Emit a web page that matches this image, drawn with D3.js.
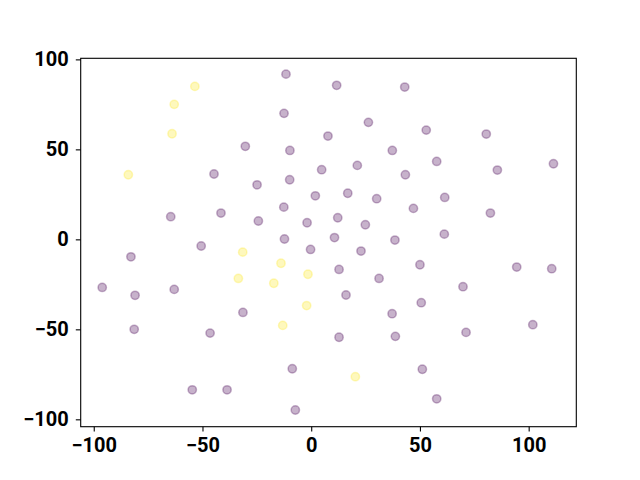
<!DOCTYPE html>
<html>
<head>
<meta charset="utf-8">
<script src="https://cdn.jsdelivr.net/npm/d3@7"></script>
<style>
  body { margin: 0; background: #fff; }
  .tick text { font-family: Roboto, sans-serif; font-weight: bold; }
</style>
</head>
<body>
<div id="chart"></div>
<script>
// points in cluster 0 (purple)
var xs0 = [-11.6, 11.7, 43.0, -12.5, 26.3, 52.9, 7.7, 80.5, -30.3, -9.8, 37.3, 21.2, 57.7, 111.4,
  4.8, -44.7, -9.9, 43.3, 85.6, -24.9, 1.9, 16.8, 30.1, 61.4, -64.6, -41.5, -12.6, 47.0, 82.4,
  -24.3, -1.9, 12.2, 24.9, -12.3, 10.7, 38.5, 61.2, -50.6, -0.3, 22.9, -82.9, 12.8, 50.0, 94.5,
  110.6, 31.2, -96.1, -63.0, 69.8, -81.0, 16.0, 50.6, -31.4, 37.2, 101.9, -81.4, -46.5, 12.8,
  38.7, 71.2, -8.7, 51.1, -54.7, -38.7, 57.7, -7.3];
var ys0 = [91.8, 85.6, 84.6, 70.0, 65.0, 60.7, 57.4, 58.5, 51.7, 49.4, 49.4, 41.1, 43.3, 42.0,
  38.7, 36.3, 33.1, 35.9, 38.5, 30.3, 24.2, 25.6, 22.6, 23.3, 12.6, 14.6, 17.9, 17.2, 14.6,
  10.2, 9.2, 12.0, 8.1, 0.2, 1.0, -0.4, 2.9, -3.7, -5.6, -6.5, -9.7, -16.7, -14.1, -15.4,
  -16.3, -21.7, -26.7, -27.8, -26.3, -31.1, -30.9, -35.2, -40.6, -41.3, -47.4, -50.0, -52.1, -54.4,
  -53.9, -51.7, -71.9, -72.2, -83.6, -83.6, -88.6, -94.8];

// points in cluster 1 (yellow)
var xs1 = [-53.5, -63.0, -64.0, -84.1, -31.5, -13.9, -33.5, -1.5, -17.2, -2.1, -13.1, 20.3];
var ys1 = [85.0, 75.0, 58.7, 35.9, -7.1, -13.3, -21.7, -19.4, -24.4, -36.8, -47.8, -76.3];

var xTicks = [-100, -50, 0, 50, 100];
var yTicks = [-100, -50, 0, 50, 100];

var W = 640, H = 480;
var margin = {top: 58.3, right: 63.7, bottom: 53.3, left: 80.7},
    width = W - margin.left - margin.right,
    height = H - margin.top - margin.bottom;

var svg = d3.select("#chart")
  .append("svg")
  .attr("width", W)
  .attr("height", H)
  .append("g")
  .attr("transform", "translate(" + margin.left + "," + margin.top + ")");

var x = d3.scaleLinear().domain([-106.0, 121.9]).range([0, width]);
var y = d3.scaleLinear().domain([-104.1, 100.6]).range([height, 0]);

var pts = [];
xs0.forEach(function(v, i) { pts.push({x: v, y: ys0[i], c: "#440154"}); });
xs1.forEach(function(v, i) { pts.push({x: v, y: ys1[i], c: "#fde725"}); });

svg.append("g")
  .selectAll("circle")
  .data(pts)
  .enter()
  .append("circle")
    .attr("cx", function(d) { return x(d.x); })
    .attr("cy", function(d) { return y(d.y); })
    .attr("r", 4.17)
    .attr("fill", function(d) { return d.c; })
    .attr("fill-opacity", 0.3)
    .attr("stroke", function(d) { return d.c; })
    .attr("stroke-opacity", 0.3)
    .attr("stroke-width", 1.5);

// frame
svg.append("rect")
  .attr("width", width)
  .attr("height", height)
  .attr("fill", "none")
  .attr("stroke", "#000")
  .attr("stroke-width", 1.1);

function fmt(d) { return d < 0 ? "\u2212" + Math.abs(d) : "" + d; }

var xAxis = svg.append("g")
  .attr("transform", "translate(0," + height + ")")
  .call(d3.axisBottom(x).tickValues(xTicks).tickFormat(fmt).tickSizeOuter(0).tickSize(4.9).tickPadding(6));
var yAxis = svg.append("g")
  .call(d3.axisLeft(y).tickValues(yTicks).tickFormat(fmt).tickSizeOuter(0).tickSize(4.9).tickPadding(7));

[xAxis, yAxis].forEach(function(a) {
  a.select(".domain").remove();
  a.selectAll(".tick line").attr("stroke", "#000").attr("stroke-width", 1.1);
  a.selectAll(".tick text").attr("fill", "#000").style("font-size", "20px");
});
</script>
</body>
</html>
